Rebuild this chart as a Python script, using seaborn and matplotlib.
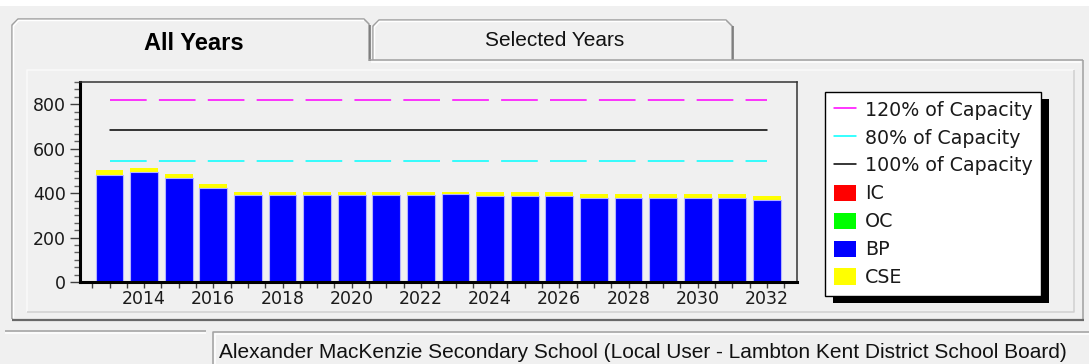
import numpy as np
import pandas as pd
import matplotlib
matplotlib.use("Agg")
import matplotlib.pyplot as plt
import seaborn as sns
from matplotlib.lines import Line2D
from matplotlib.patches import Patch, Rectangle
from matplotlib.ticker import FixedLocator, AutoMinorLocator

# ---- enrolment projection data -------------------------------------------
years = [2013, 2014, 2015, 2016, 2017, 2018, 2019, 2020, 2021, 2022,
         2023, 2024, 2025, 2026, 2027, 2028, 2029, 2030, 2031, 2032]
bp = [480, 497, 470, 425, 390, 390, 390, 390, 390, 390,
      397, 388, 388, 388, 378, 378, 378, 378, 378, 370]
cse = [25, 17, 17, 17, 16, 16, 16, 16, 16, 16,
       9, 17, 17, 17, 18, 18, 18, 18, 18, 17]
oc = [0, 0, 0, 0, 0, 0, 0, 0, 0, 0, 0, 0, 0, 0, 0, 0, 0, 0, 0, 0]
ic = [0, 0, 0, 0, 0, 0, 0, 0, 0, 0, 0, 0, 0, 0, 0, 0, 0, 0, 0, 0]
capacity = 682
capacity_levels = {"120% of Capacity": 1.2, "80% of Capacity": 0.8, "100% of Capacity": 1.0}
year_labels = [str(y) for y in years]

school = "Alexander MacKenzie Secondary School (Local User - Lambton Kent District School Board)"
tabs = ["All Years", "Selected Years"]

# ---- figure ---------------------------------------------------------------
sns.set_theme(style="white")
plt.rcParams["font.family"] = ["DejaVu Sans"]
W, H = 1089, 364
fig = plt.figure(figsize=(W / 100, H / 100), dpi=100, facecolor="#f0f0f0")

# window chrome drawn in pixel coordinates
bg = fig.add_axes([0, 0, 1, 1], zorder=-1)
bg.set_xlim(0, W)
bg.set_ylim(H, 0)
bg.axis("off")
bg.add_patch(Rectangle((0, 0), W, 6, color="white", lw=0))

def seg(xs, ys, c="#a0a0a0", lw=1.1):
    bg.plot(xs, ys, color=c, lw=lw, solid_capstyle="butt")

# selected tab + panel frame
seg([12, 12, 18, 364, 369, 369], [319, 25, 19, 19, 24, 61])
seg([13.5, 13.5, 18.5, 364], [318, 26, 20.5, 20.5], c="white")
seg([369.5, 369.5], [25, 61], c="#707070")
# unselected tab
seg([373, 373, 379, 726, 732, 732], [60, 26, 20, 20, 26, 60])
seg([374.5, 374.5, 379.5, 726], [59, 27, 21.5, 21.5], c="white")
seg([732.5, 732.5], [26, 60], c="#707070")
# panel top, right, bottom
seg([369, 1083], [60, 60])
seg([371, 1081], [62, 62], c="white")
seg([1083, 1083], [60, 320])
seg([12, 1084], [319.5, 319.5], c="#696969", lw=1.6)
# inner bevel box
seg([27, 27, 1074], [312, 70, 70], c="#fafafa")
seg([27, 1074, 1074], [312, 312, 70], c="#d0d0d0")
# status bar
seg([5, 206], [331, 331], c="#a0a0a0")
seg([5, 206], [332.5, 332.5], c="white")
seg([213, 213, W], [H, 332, 332], c="#a0a0a0")
seg([214.5, 214.5, W], [H, 333.5, 333.5], c="white")

bg.text(194, 43, tabs[0], ha="center", va="center", fontsize=17,
        fontweight="bold", family=["Liberation Sans", "DejaVu Sans"], color="black")
bg.text(555, 41, tabs[1], ha="center", va="center", fontsize=15,
        family=["Liberation Sans Narrow", "Liberation Sans"], color="#111111")
bg.text(219, 352, school, ha="left", va="center", fontsize=15,
        family=["Liberation Sans Narrow", "Liberation Sans"], color="#111111")

# ---- chart ----------------------------------------------------------------
ax = fig.add_axes([80 / W, 1 - 282 / H, 717 / W, 200 / H])
ax.set_facecolor("#f0f0f0")

df = pd.DataFrame({"year": year_labels, "BP": bp, "CSE": cse, "OC": oc, "IC": ic})
df["top_cse"] = df["BP"] + df["CSE"]
df["top_oc"] = df["top_cse"] + df["OC"]
df["top_ic"] = df["top_oc"] + df["IC"]

# cumulative stack, tallest first so each layer shows only its own slice
stack = [("top_ic", "#ff0000", "none"), ("top_oc", "#00ff00", "none"),
         ("top_cse", "#ffff00", "none"), ("BP", "#0000ff", "#b4b4ff")]
for col, colr, ec in stack:
    sns.barplot(data=df, x="year", y=col, order=year_labels, color=colr,
                saturation=1, width=0.8, edgecolor=ec, linewidth=0.8, ax=ax)

idx = np.arange(len(years))
line_styles = {"120% of Capacity": ("#ff00ff", (0, (24, 8))),
               "80% of Capacity": ("#00ffff", (0, (24, 8))),
               "100% of Capacity": ("black", "-")}
for name, mult in capacity_levels.items():
    colr, ls = line_styles[name]
    sns.lineplot(x=idx, y=np.full(len(idx), capacity * mult), color=colr,
                 linestyle=ls, lw=1.1, ax=ax)

ax.set_xlim(-0.853, 19.87)
ax.set_ylim(0, 900)
ax.set_xlabel("")
ax.set_ylabel("")

xt = np.arange(-0.5, 19.51, 0.5)
ax.xaxis.set_major_locator(FixedLocator(xt))
xlabs = []
for t in xt:
    if float(t).is_integer() and years[int(t)] % 2 == 0:
        xlabs.append(year_labels[int(t)])
    else:
        xlabs.append("")
ax.set_xticklabels(xlabs)
ax.set_yticks([0, 200, 400, 600, 800])
ax.yaxis.set_minor_locator(AutoMinorLocator(6))
ax.tick_params(axis="x", which="major", length=4, width=1, color="#404040",
               labelsize=12.5, labelcolor="#1a1a1a", pad=2, bottom=True)
ax.tick_params(axis="y", which="major", length=7, width=1, color="#404040",
               labelsize=12.5, labelcolor="#1a1a1a", pad=3, left=True)
ax.tick_params(axis="y", which="minor", length=4, width=1, color="#606060", left=True)
for s in ["left", "bottom"]:
    ax.spines[s].set_linewidth(2.2)
    ax.spines[s].set_color("black")
for s in ["top", "right"]:
    ax.spines[s].set_linewidth(1.1)
    ax.spines[s].set_color("#333333")
    ax.spines[s].set_visible(True)

# ---- legend with drop shadow ----------------------------------------------
handles = [Line2D([], [], color="#ff00ff", lw=1.1),
           Line2D([], [], color="#00ffff", lw=1.1),
           Line2D([], [], color="black", lw=1.1),
           Patch(facecolor="#ff0000", edgecolor="none"),
           Patch(facecolor="#00ff00", edgecolor="none"),
           Patch(facecolor="#0000ff", edgecolor="none"),
           Patch(facecolor="#ffff00", edgecolor="none")]
labels = list(capacity_levels.keys()) + ["IC", "OC", "BP", "CSE"]
leg = fig.legend(handles, labels, loc="upper left",
                 bbox_to_anchor=(825 / W, 1 - 92 / H), bbox_transform=fig.transFigure,
                 borderaxespad=0, frameon=True, fancybox=False, edgecolor="black",
                 facecolor="white", framealpha=1, fontsize=13.7, handlelength=1.2,
                 handleheight=0.95, handletextpad=0.45, labelspacing=0.47,
                 borderpad=0.45)
leg.get_frame().set_linewidth(1.0)
for t in leg.get_texts():
    t.set_color("#1a1a1a")
leg.set_zorder(6)

fig.canvas.draw()
bb = leg.get_window_extent()
shadow = Rectangle((bb.x0 + 8, bb.y0 - 7), bb.width, bb.height, transform=None,
                   facecolor="black", edgecolor="none", zorder=5)
fig.patches.append(shadow)
shadow.set_figure(fig)

fig.savefig("out.png", dpi=100, facecolor=fig.get_facecolor())
